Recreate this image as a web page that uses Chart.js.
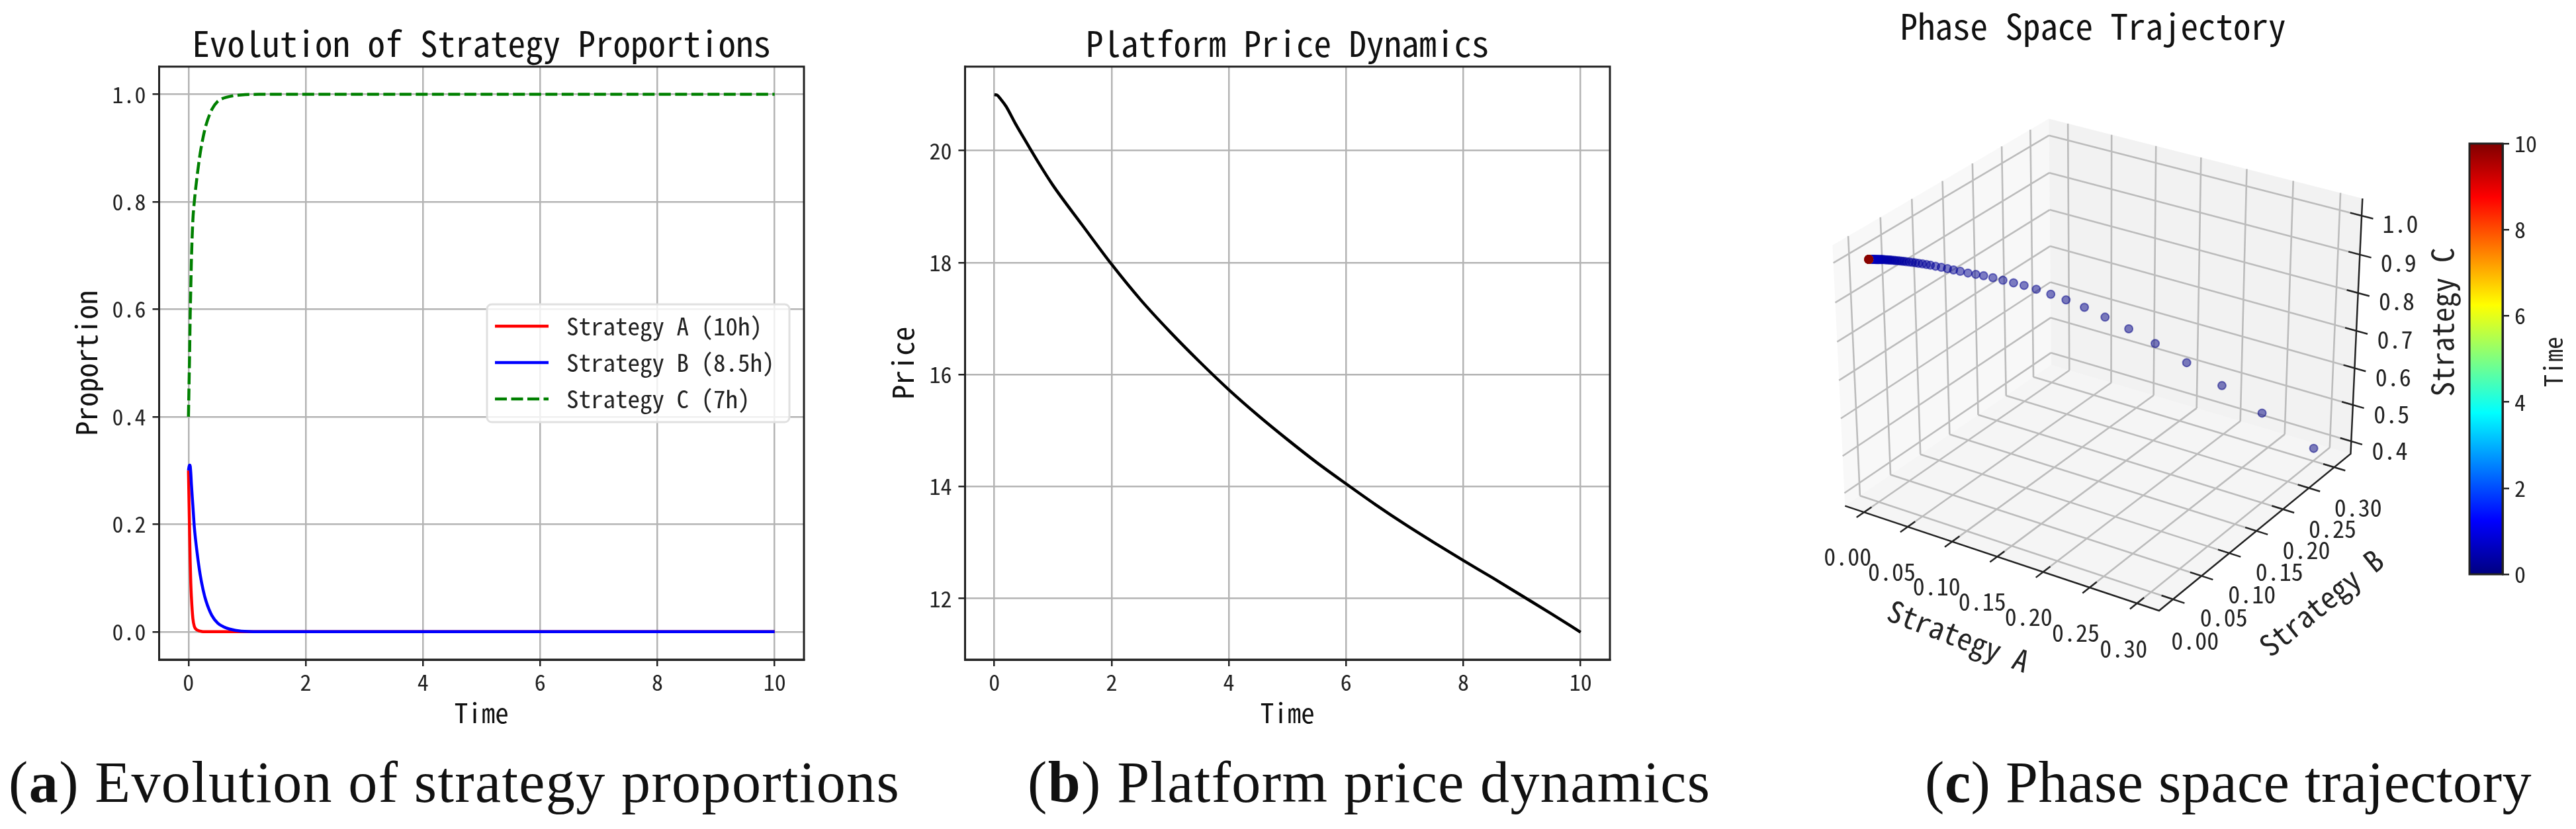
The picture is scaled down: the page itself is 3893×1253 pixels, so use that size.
<!DOCTYPE html>
<html>
<head>
<meta charset="utf-8">
<script src="https://cdn.jsdelivr.net/npm/chart.js@4"></script>
<style>
  body { margin: 0; background: #fff; width: 3893px; height: 1253px; position: relative; overflow: hidden; }
  canvas { position: absolute; top: 0; }
  .caption { position: absolute; top: 1128px; font-family: "Liberation Serif", serif; font-size: 88px; letter-spacing: 1.4px; line-height: 110px; color: #111; white-space: nowrap; z-index: 5; }
</style>
</head>
<body>
<canvas id="panel_a" style="left:0"></canvas>
<canvas id="panel_b" style="left:1300px"></canvas>
<canvas id="panel_c" style="left:2433px"></canvas>
<canvas id="panel_bar" style="left:3700px"></canvas>
<div class="caption" style="left:13px">(<b>a</b>) Evolution of strategy proportions</div>
<div class="caption" style="left:1553px">(<b>b</b>) Platform price dynamics</div>
<div class="caption" style="left:2909px;letter-spacing:0.6px">(<b>c</b>) Phase space trajectory</div>
<script>
// panel a
const times = [0, 0.01, 0.02, 0.03, 0.04, 0.05, 0.075, 0.1, 0.15, 0.2, 0.25, 0.3, 0.4, 0.5, 0.6, 0.7, 0.9, 1.2, 2, 4, 6, 8, 10];
const strategy_a = [0.3, 0.24, 0.18, 0.13, 0.09, 0.065, 0.025, 0.01, 0.003, 0.001, 0, 0, 0, 0, 0, 0, 0, 0, 0, 0, 0, 0, 0];
const strategy_b = [0.3, 0.307, 0.31, 0.308, 0.295, 0.275, 0.235, 0.195, 0.145, 0.106, 0.078, 0.057, 0.03, 0.016, 0.009, 0.005, 0.001, 0, 0, 0, 0, 0, 0];
const strategy_c = [0.4, 0.46, 0.52, 0.59, 0.64, 0.69, 0.765, 0.8, 0.85, 0.89, 0.92, 0.943, 0.972, 0.987, 0.993, 0.996, 0.999, 1, 1, 1, 1, 1, 1];
const series_names = ["Strategy A (10h)", "Strategy B (8.5h)", "Strategy C (7h)"];
const time_ticks = [0, 2, 4, 6, 8, 10];
const proportion_ticks = [0, 0.2, 0.4, 0.6, 0.8, 1];

// panel b
const price_times = [0, 0.05, 0.1, 0.2, 0.35, 0.5, 0.75, 1, 1.5, 2, 2.5, 3, 3.5, 4, 4.5, 5, 5.5, 6, 6.5, 7, 7.5, 8, 8.5, 9, 9.5, 10];
const price = [21, 20.99, 20.93, 20.79, 20.5, 20.23, 19.79, 19.38, 18.67, 17.97, 17.33, 16.76, 16.23, 15.73, 15.27, 14.84, 14.43, 14.05, 13.68, 13.33, 13, 12.68, 12.37, 12.05, 11.73, 11.4];
const price_ticks = [12, 14, 16, 18, 20];

// panel c, one dot per sample
const phase_time = [0, 0.01, 0.02, 0.03, 0.04, 0.05, 0.06, 0.07, 0.08, 0.09, 0.1, 0.11, 0.12, 0.13, 0.14, 0.15, 0.16, 0.17, 0.18, 0.19, 0.2, 0.21, 0.22, 0.23, 0.24, 0.25, 0.26, 0.27, 0.28, 0.29, 0.3, 0.31, 0.32, 0.33, 0.34, 0.35, 0.36, 0.37, 0.38, 0.39, 0.4, 0.41, 0.42, 0.43, 0.44, 0.45, 0.46, 0.47, 0.48, 0.49, 0.5, 0.51, 0.52, 0.53, 0.54, 0.55, 0.56, 0.57, 0.58, 0.59, 0.6, 0.61, 0.62, 1, 2, 3, 4, 5, 6, 7, 8, 9, 9.5, 9.7, 9.8, 9.9, 10];
const phase_a = [0.3, 0.244, 0.2, 0.163, 0.132, 0.108, 0.089, 0.073, 0.061, 0.052, 0.044, 0.038, 0.034, 0.03, 0.026, 0.023, 0.021, 0.019, 0.0165, 0.0145, 0.0125, 0.0105, 0.009, 0.0075, 0.0065, 0.0055, 0.0048, 0.004, 0.0035, 0.003, 0.0025, 0.002, 0.0018, 0.0015, 0.0012, 0.001, 0.0008, 0.0006, 0.0005, 0.0004, 0.0003, 0.0002, 0.0001, 0, 0, 0, 0, 0, 0, 0, 0, 0, 0, 0, 0, 0, 0, 0, 0, 0, 0, 0, 0, 0, 0, 0, 0, 0, 0, 0, 0, 0, 0, 0, 0, 0, 0];
const phase_b = [0.3, 0.297, 0.295, 0.29, 0.282, 0.272, 0.259, 0.247, 0.233, 0.22, 0.207, 0.195, 0.183, 0.171, 0.16, 0.149, 0.139, 0.129, 0.12, 0.112, 0.105, 0.098, 0.091, 0.085, 0.08, 0.075, 0.07, 0.066, 0.062, 0.058, 0.054, 0.051, 0.048, 0.045, 0.042, 0.039, 0.037, 0.034, 0.032, 0.03, 0.028, 0.026, 0.024, 0.022, 0.02, 0.019, 0.018, 0.016, 0.015, 0.014, 0.013, 0.012, 0.011, 0.01, 0.009, 0.008, 0.007, 0.006, 0.005, 0.004, 0.003, 0.002, 0.001, 0, 0, 0, 0, 0, 0, 0, 0, 0, 0, 0, 0, 0, 0];
const phase_c = [0.4, 0.459, 0.505, 0.547, 0.586, 0.62, 0.652, 0.68, 0.706, 0.728, 0.749, 0.767, 0.783, 0.799, 0.814, 0.828, 0.84, 0.852, 0.8635, 0.8735, 0.8825, 0.8915, 0.9, 0.9075, 0.9135, 0.9195, 0.9252, 0.93, 0.9345, 0.939, 0.9435, 0.947, 0.95, 0.9535, 0.9568, 0.96, 0.9622, 0.9654, 0.9675, 0.9696, 0.9717, 0.9738, 0.9759, 0.978, 0.98, 0.981, 0.982, 0.984, 0.985, 0.986, 0.987, 0.988, 0.989, 0.99, 0.991, 0.992, 0.993, 0.994, 0.995, 0.996, 0.997, 0.998, 0.999, 1, 1, 1, 1, 1, 1, 1, 1, 1, 1, 1, 1, 1, 1];
const a_ticks = [0, 0.05, 0.1, 0.15, 0.2, 0.25, 0.3];
const b_ticks = [0, 0.05, 0.1, 0.15, 0.2, 0.25, 0.3];
const c_ticks = [0.4, 0.5, 0.6, 0.7, 0.8, 0.9, 1];
const bar_ticks = [0, 2, 4, 6, 8, 10];

const mono = '"Noto Sans Mono CJK SC", "Liberation Mono", monospace';
const grid_color = "#b4b4b4";
const ink = "#222";
const dpr = 1;

Chart.defaults.font.family = mono;
Chart.defaults.color = ink;
Chart.defaults.animation = false;

function toPoints(xs, ys) {
  return xs.map((x, i) => ({ x: x, y: ys[i] }));
}

// box round the plot, the library only draws the left and bottom spines
const frame_plugin = {
  id: "frame",
  afterDraw(chart) {
    const area = chart.chartArea;
    const ctx = chart.ctx;
    ctx.save();
    ctx.strokeStyle = ink;
    ctx.lineWidth = 3;
    ctx.strokeRect(area.left, area.top, area.right - area.left, area.bottom - area.top);
    ctx.restore();
  },
};

const legend_plugin = {
  id: "legend_box",
  afterDraw(chart) {
    const ctx = chart.ctx;
    ctx.save();
    ctx.fillStyle = "rgba(255,255,255,0.8)";
    ctx.strokeStyle = "#e0e0e0";
    ctx.lineWidth = 3;
    ctx.beginPath();
    ctx.roundRect(736, 460, 457, 178, 7);
    ctx.fill();
    ctx.stroke();
    ctx.font = "37px " + mono;
    ctx.textBaseline = "middle";
    series_names.forEach((name, i) => {
      const ds = chart.data.datasets[i];
      const y = 493 + i * 55;
      ctx.strokeStyle = ds.borderColor;
      ctx.lineWidth = 4.5;
      ctx.setLineDash(ds.borderDash || []);
      ctx.beginPath();
      ctx.moveTo(748, y);
      ctx.lineTo(829, y);
      ctx.stroke();
      ctx.setLineDash([]);
      ctx.fillStyle = ink;
      ctx.fillText(name, 856, y);
    });
    ctx.restore();
  },
};

function cartesianOptions(cfg) {
  return {
    responsive: false,
    devicePixelRatio: dpr,
    animation: false,
    layout: { padding: { left: 0, right: cfg.right, top: 0, bottom: 0 } },
    plugins: {
      legend: { display: false },
      tooltip: { enabled: false },
      title: {
        display: true,
        fullSize: false,
        text: cfg.title,
        font: { size: 53, lineHeight: 1, weight: "normal" },
        color: "#111",
        padding: { top: 39, bottom: 8.7 },
      },
    },
    elements: { point: { radius: 0 } },
    scales: {
      x: {
        type: "linear",
        min: cfg.x_range[0],
        max: cfg.x_range[1],
        afterBuildTicks: (scale) => { scale.ticks = time_ticks.map((v) => ({ value: v })); },
        afterFit: (scale) => { scale.height = 101; },
        grid: { color: grid_color, lineWidth: 2.5, tickLength: 10, tickColor: ink },
        border: { color: ink, width: 3 },
        ticks: { font: { size: 34 }, padding: 4, maxRotation: 0, autoSkip: false, callback: (v) => String(v) },
        title: { display: true, text: "Time", font: { size: 41, lineHeight: 1 }, padding: 0, color: "#111" },
      },
      y: {
        type: "linear",
        min: cfg.y_range[0],
        max: cfg.y_range[1],
        afterBuildTicks: (scale) => { scale.ticks = cfg.y_ticks.map((v) => ({ value: v })); },
        afterFit: (scale) => { scale.width = cfg.axis_width; },
        grid: { color: grid_color, lineWidth: 2.5, tickLength: 10, tickColor: ink },
        border: { color: ink, width: 3 },
        ticks: { font: { size: 34 }, padding: 10, autoSkip: false, callback: cfg.y_format },
        title: { display: true, text: cfg.y_title, font: { size: 44, lineHeight: 1 }, padding: { top: cfg.y_title_pad, bottom: 0 }, color: "#111" },
      },
    },
  };
}

function sizeCanvas(id, w, h) {
  const el = document.getElementById(id);
  el.width = w;
  el.height = h;
  el.style.width = w + "px";
  el.style.height = h + "px";
  return el;
}

new Chart(sizeCanvas("panel_a", 1300, 1098), {
  type: "scatter",
  data: {
    datasets: [
      { label: series_names[0], data: toPoints(times, strategy_a), showLine: true, borderColor: "#ff0000", borderWidth: 4.5, cubicInterpolationMode: "monotone", order: 3 },
      { label: series_names[1], data: toPoints(times, strategy_b), showLine: true, borderColor: "#0000ff", borderWidth: 4.5, cubicInterpolationMode: "monotone", order: 2 },
      { label: series_names[2], data: toPoints(times, strategy_c), showLine: true, borderColor: "#008000", borderWidth: 4.5, borderDash: [18, 6.5], cubicInterpolationMode: "monotone", order: 1 },
    ],
  },
  options: cartesianOptions({
    title: "Evolution of Strategy Proportions",
    right: 85,
    x_range: [-0.5, 10.5],
    y_range: [-0.052, 1.0516],
    y_ticks: proportion_ticks,
    y_format: (v) => v.toFixed(1),
    y_title: "Proportion",
    y_title_pad: 108,
    axis_width: 240.5,
  }),
  plugins: [frame_plugin, legend_plugin],
});

new Chart(sizeCanvas("panel_b", 1150, 1098), {
  type: "scatter",
  data: {
    datasets: [
      { label: "Price", data: toPoints(price_times, price), showLine: true, borderColor: "#000", borderWidth: 4.5, cubicInterpolationMode: "monotone" },
    ],
  },
  options: cartesianOptions({
    title: "Platform Price Dynamics",
    right: 17,
    x_range: [-0.5, 10.5],
    y_range: [10.91, 21.5],
    y_ticks: price_ticks,
    y_format: (v) => String(v),
    y_title: "Price",
    y_title_pad: 42.5,
    axis_width: 158.4,
  }),
  plugins: [frame_plugin],
});

// 3d view of panel c, same camera idea as mplot3d
const limits_a = [-0.022, 0.323];
const limits_b = [-0.024, 0.333];
const limits_c = [0.365, 1.044];
const box_size = [1.143, 1.143, 0.97];
const azim = (-57 * Math.PI) / 180;
const elev = (29 * Math.PI) / 180;
const cam_w = [Math.cos(elev) * Math.cos(azim), Math.cos(elev) * Math.sin(azim), Math.sin(elev)];
const cam_u = [-Math.sin(azim), Math.cos(azim), 0];
const cam_v = [-Math.sin(elev) * Math.cos(azim), -Math.sin(elev) * Math.sin(azim), Math.cos(elev)];
const view_scale = [5000, 4630];
const view_origin = [743, 538];

function dot(p, q) {
  return p[0] * q[0] + p[1] * q[1] + p[2] * q[2];
}

function project(a, b, c) {
  const q = [
    ((a - limits_a[0]) / (limits_a[1] - limits_a[0]) - 0.5) * box_size[0],
    ((b - limits_b[0]) / (limits_b[1] - limits_b[0]) - 0.5) * box_size[1],
    ((c - limits_c[0]) / (limits_c[1] - limits_c[0]) - 0.5) * box_size[2],
  ];
  const depth = 10 - dot(q, cam_w);
  return {
    x: view_origin[0] + (view_scale[0] * dot(q, cam_u)) / depth,
    y: view_origin[1] - (view_scale[1] * dot(q, cam_v)) / depth,
  };
}

function jet(f) {
  const ramp = (x) => Math.min(1, Math.max(0, x));
  const r = ramp(1.5 - Math.abs(4 * f - 3));
  const g = ramp(1.5 - Math.abs(4 * f - 2));
  const b = ramp(1.5 - Math.abs(4 * f - 1));
  return [Math.round(r * 255), Math.round(g * 255), Math.round(b * 255)];
}

const [a_min, a_max] = limits_a;
const [b_min, b_max] = limits_b;
const [c_min, c_max] = limits_c;
const gap = { x: NaN, y: NaN };

function polyline(list) {
  const out = [];
  list.forEach((seg) => {
    seg.forEach((p) => out.push(project(p[0], p[1], p[2])));
    out.push(gap);
  });
  return out;
}

function pane(list) {
  return {
    data: list.map((p) => project(p[0], p[1], p[2])),
    showLine: true,
    fill: "shape",
    borderWidth: 0,
    order: 10,
    pointRadius: 0,
  };
}

const grid_segments = [];
b_ticks.forEach((b) => {
  grid_segments.push([[a_min, b, c_min], [a_min, b, c_max]]);
  grid_segments.push([[a_min, b, c_min], [a_max, b, c_min]]);
});
a_ticks.forEach((a) => {
  grid_segments.push([[a, b_max, c_min], [a, b_max, c_max]]);
  grid_segments.push([[a, b_min, c_min], [a, b_max, c_min]]);
});
c_ticks.forEach((c) => {
  grid_segments.push([[a_min, b_min, c], [a_min, b_max, c]]);
  grid_segments.push([[a_min, b_max, c], [a_max, b_max, c]]);
});

const axis_segments = [
  [[a_min, b_min, c_min], [a_max, b_min, c_min], [a_max, b_max, c_min], [a_max, b_max, c_max]],
];
const tick_d = 0.012;
a_ticks.forEach((a) => axis_segments.push([[a, b_min - tick_d, c_min], [a, b_min + tick_d, c_min]]));
b_ticks.forEach((b) => axis_segments.push([[a_max + tick_d, b, c_min], [a_max - tick_d, b, c_min]]));
c_ticks.forEach((c) => axis_segments.push([[a_max + tick_d, b_max, c], [a_max - tick_d, b_max, c]]));

const phase_labels = {
  id: "phase_labels",
  afterDraw(chart) {
    const ctx = chart.ctx;
    ctx.save();
    ctx.fillStyle = ink;
    ctx.textAlign = "center";
    ctx.textBaseline = "middle";
    ctx.font = "36px " + mono;
    a_ticks.forEach((a) => {
      const p = project(a, b_min, c_min);
      ctx.fillText(a.toFixed(2), p.x - 21, p.y + 62);
    });
    b_ticks.forEach((b) => {
      const p = project(a_max, b, c_min);
      ctx.fillText(b.toFixed(2), p.x + 32, p.y + 56);
    });
    c_ticks.forEach((c) => {
      const p = project(a_max, b_max, c);
      ctx.fillText(c.toFixed(1), p.x + 54, p.y + 10);
    });
    ctx.font = "45px " + mono;
    [["Strategy A", 527, 961, 21], ["Strategy B", 1075, 911, -39], ["Strategy C", 1258, 487, -90]].forEach((t) => {
      ctx.save();
      ctx.translate(t[1], t[2]);
      ctx.rotate((t[3] * Math.PI) / 180);
      ctx.fillText(t[0], 0, 0);
      ctx.restore();
    });
    ctx.restore();
  },
};

const phase_points = phase_a.map((a, i) => project(a, phase_b[i], phase_c[i]));
const phase_fill = phase_time.map((t) => "rgba(" + jet(t / 10).join(",") + ",0.5)");

new Chart(sizeCanvas("panel_c", 1460, 1098), {
  type: "scatter",
  data: {
    datasets: [
      { label: "Trajectory", data: phase_points, pointRadius: 6, pointBorderWidth: 2, pointBackgroundColor: phase_fill, pointBorderColor: phase_fill, showLine: false, order: 1 },
      { label: "Axes", data: polyline(axis_segments), showLine: true, borderColor: ink, borderWidth: 2.5, pointRadius: 0, spanGaps: false, order: 2 },
      { label: "Grid", data: polyline(grid_segments), showLine: true, borderColor: "#bcbcbc", borderWidth: 2.6, pointRadius: 0, spanGaps: false, order: 3 },
      Object.assign(pane([[a_min, b_min, c_min], [a_min, b_min, c_max], [a_min, b_max, c_max], [a_min, b_max, c_min], [a_min, b_min, c_min]]), { backgroundColor: "rgba(242,242,242,0.5)", label: "Pane A" }),
      Object.assign(pane([[a_min, b_max, c_min], [a_min, b_max, c_max], [a_max, b_max, c_max], [a_max, b_max, c_min], [a_min, b_max, c_min]]), { backgroundColor: "rgba(230,230,230,0.5)", label: "Pane B" }),
      Object.assign(pane([[a_min, b_min, c_min], [a_max, b_min, c_min], [a_max, b_max, c_min], [a_min, b_max, c_min], [a_min, b_min, c_min]]), { backgroundColor: "rgba(236,236,236,0.5)", label: "Pane C" }),
    ],
  },
  options: {
    responsive: false,
    devicePixelRatio: dpr,
    animation: false,
    layout: { padding: 0 },
    plugins: {
      legend: { display: false },
      tooltip: { enabled: false },
      title: {
        display: true,
        text: "Phase Space Trajectory",
        font: { size: 53, lineHeight: 1, weight: "normal" },
        color: "#111",
        padding: { top: 13, bottom: 0 },
      },
    },
    scales: {
      x: { type: "linear", min: 0, max: 1460, display: false },
      y: { type: "linear", min: 66, max: 1098, reverse: true, display: false },
    },
  },
  plugins: [phase_labels],
});

// colour bar
const jet_stops = [0, 0.11, 0.125, 0.375, 0.625, 0.875, 0.89, 1];
const bar_label = {
  id: "bar_label",
  afterDraw(chart) {
    const ctx = chart.ctx;
    ctx.save();
    ctx.fillStyle = ink;
    ctx.font = "38px " + mono;
    ctx.textAlign = "center";
    ctx.textBaseline = "middle";
    ctx.translate(159, 547);
    ctx.rotate(-Math.PI / 2);
    ctx.fillText("Time", 0, 0);
    ctx.restore();
  },
};

new Chart(sizeCanvas("panel_bar", 193, 900), {
  type: "bar",
  data: {
    labels: ["Time"],
    datasets: [
      {
        data: [[bar_ticks[0], bar_ticks[bar_ticks.length - 1]]],
        barPercentage: 1,
        categoryPercentage: 1,
        backgroundColor: (context) => {
          const area = context.chart.chartArea;
          if (!area) return "#00f";
          const grad = context.chart.ctx.createLinearGradient(0, area.bottom, 0, area.top);
          jet_stops.forEach((s) => grad.addColorStop(s, "rgb(" + jet(s).join(",") + ")"));
          return grad;
        },
      },
    ],
  },
  options: {
    responsive: false,
    devicePixelRatio: dpr,
    animation: false,
    layout: { padding: { left: 32, top: 217, bottom: 32, right: 0 } },
    plugins: { legend: { display: false }, tooltip: { enabled: false } },
    scales: {
      x: { display: false },
      y: {
        position: "right",
        min: 0,
        max: 10,
        afterBuildTicks: (scale) => { scale.ticks = bar_ticks.map((v) => ({ value: v })); },
        afterFit: (scale) => { scale.width = 111; },
        grid: { drawOnChartArea: false, tickLength: 10, tickColor: ink, lineWidth: 2.5 },
        border: { color: ink, width: 3 },
        ticks: { font: { size: 34 }, padding: 8, autoSkip: false, callback: (v) => String(v) },
      },
    },
  },
  plugins: [frame_plugin, bar_label],
});
</script>
</body>
</html>
